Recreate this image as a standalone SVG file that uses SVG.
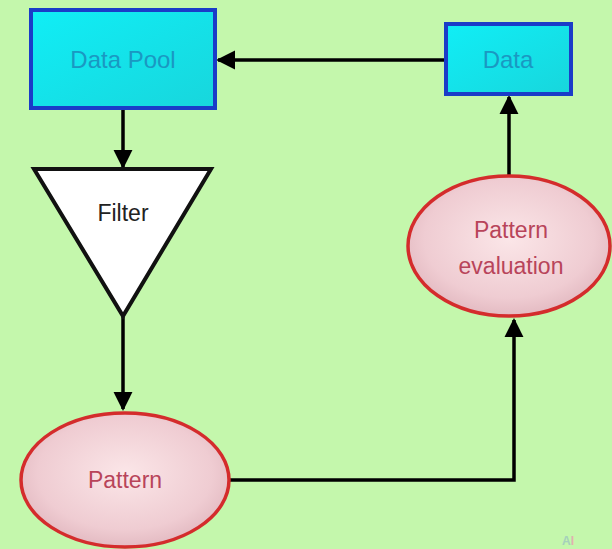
<svg xmlns="http://www.w3.org/2000/svg" width="612" height="549" viewBox="0 0 612 549">
<defs>
<linearGradient id="cyan" x1="0" y1="0" x2="1" y2="1">
<stop offset="0" stop-color="#10eef6"/>
<stop offset="1" stop-color="#18d6dc"/>
</linearGradient>
<radialGradient id="pink" cx="0.5" cy="0.45" r="0.6">
<stop offset="0" stop-color="#fbe6e8"/>
<stop offset="0.7" stop-color="#efccd2"/>
<stop offset="1" stop-color="#dfb4bc"/>
</radialGradient>
<marker id="ah" viewBox="0 0 10 10" refX="9" refY="5" markerWidth="5.5" markerHeight="5.5" orient="auto" markerUnits="strokeWidth">
<path d="M0,0 L10,5 L0,10 z" fill="#000"/>
</marker>
</defs>
<style>
.box{fill:url(#cyan);stroke:#1a3cc8;stroke-width:4}
.ell{fill:url(#pink);stroke:#d42c2c;stroke-width:3.5}
.tri{fill:#fff;stroke:#111;stroke-width:4;stroke-linejoin:miter}
.conn{fill:none;stroke:#000;stroke-width:3.5;marker-end:url(#ah)}
.bt{font-family:"Liberation Sans",Arial,sans-serif;font-size:24px;fill:#1a98c2;text-anchor:middle}
.et{font-family:"Liberation Sans",Arial,sans-serif;font-size:23px;fill:#b8445a;text-anchor:middle}
.ft{font-family:"Liberation Sans",Arial,sans-serif;font-size:23px;fill:#222;text-anchor:middle}
</style>
<rect width="612" height="549" fill="#c4f7ac"/>
<g id="connectors">
<path class="conn" d="M445,60 L218,60"/>
<path class="conn" d="M123,110 L123,167"/>
<path class="conn" d="M123,317 L123,409"/>
<path class="conn" d="M230,480 L514,480 L514,320"/>
<path class="conn" d="M509,175 L509,97"/>
</g>
<g id="data-pool">
<rect class="box" x="31" y="10" width="184" height="98"/>
<text class="bt" x="123" y="68">Data Pool</text>
</g>
<g id="data">
<rect class="box" x="446" y="24" width="125" height="70"/>
<text class="bt" x="508" y="68">Data</text>
</g>
<g id="filter">
<polygon class="tri" points="34,169 211,169 123,316"/>
<text class="ft" x="123" y="221">Filter</text>
</g>
<g id="pattern">
<ellipse class="ell" cx="125" cy="480" rx="104" ry="67"/>
<text class="et" x="125" y="488">Pattern</text>
</g>
<g id="pattern-evaluation">
<ellipse class="ell" cx="509" cy="246" rx="101" ry="70"/>
<text class="et" x="511" y="238">Pattern</text>
<text class="et" x="511" y="274">evaluation</text>
</g>
<text x="568" y="545" font-family="Liberation Sans,Arial,sans-serif" font-size="12" font-weight="bold" fill="#9ec8c0" text-anchor="middle" opacity="0.8">A<tspan fill="#e8a0b0">I</tspan></text>
</svg>
